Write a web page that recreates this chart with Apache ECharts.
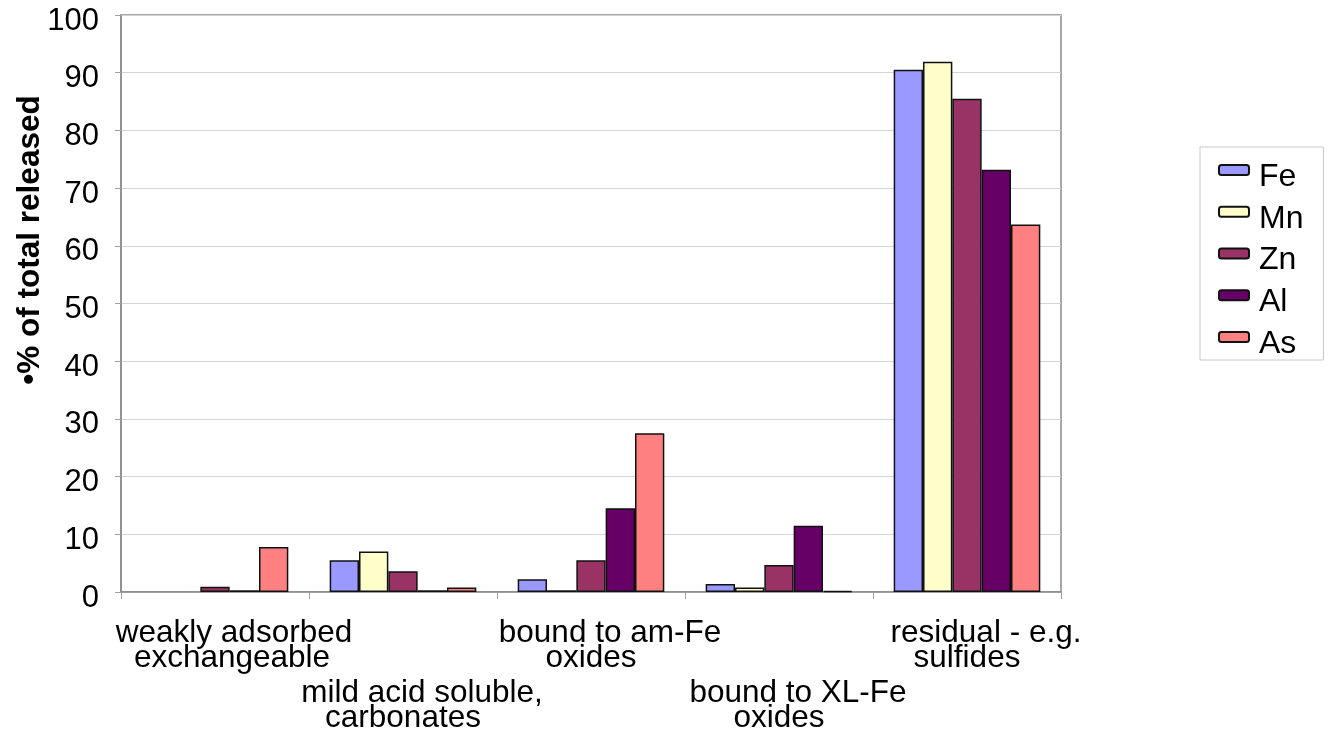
<!DOCTYPE html>
<html>
<head>
<meta charset="utf-8">
<title>% of total released by fraction</title>
<script src="https://cdn.jsdelivr.net/npm/echarts@6/dist/echarts.min.js"></script>
<style>
  html, body { margin: 0; padding: 0; background: #fff; }
  #chart { width: 1328px; height: 730px; }
</style>
</head>
<body>
<div id="chart"></div>
<script>
// Sequential extraction fractions (x categories)
const categories = [
  'weakly adsorbed\nexchangeable',
  'mild acid soluble,\ncarbonates',
  'bound to am-Fe\noxides',
  'bound to XL-Fe\noxides',
  'residual - e.g.\nsulfides'
];

// % of total released per element
const fe = [0, 5.5, 2.2, 1.4, 90.5];
const mn = [0, 7.0, 0.3, 0.8, 91.9];
const zn = [0.9, 3.6, 5.5, 4.7, 85.5];
const al = [0.3, 0.3, 14.5, 11.5, 73.2];
const as = [7.8, 0.8, 27.5, 0.2, 63.7];

const seriesNames = ['Fe', 'Mn', 'Zn', 'Al', 'As'];
const seriesValues = [fe, mn, zn, al, as];
const seriesColors = ['#9999FF', '#FFFFCC', '#993366', '#660066', '#FF8080'];

const yTicks = { min: 0, max: 100, step: 10 };
const yTitle = '•% of total released';

const FONT = '"Liberation Sans", Arial, Helvetica, sans-serif';

const chart = echarts.init(document.getElementById('chart'), null, { renderer: 'canvas' });

// zero values get no outline so they leave no stroke on the baseline
function barData(values) {
  return values.map(function (v) {
    return v === 0 ? { value: v, itemStyle: { borderWidth: 0 } } : v;
  });
}

chart.setOption({
  backgroundColor: '#ffffff',
  animation: false,
  textStyle: { fontFamily: FONT, color: '#000' },
  grid: {
    left: 121, right: 267, top: 15, bottom: 138,
    outerBoundsMode: 'none',
    containLabel: false,
    show: true, borderColor: '#8a8a8a', borderWidth: 1.5, backgroundColor: 'transparent'
  },
  legend: {
    orient: 'vertical',
    left: 1200, top: 147,
    itemWidth: 30, itemHeight: 10,
    itemGap: -4.25,
    padding: [0, 20, 0, 18],
    borderColor: '#c8c8c8', borderWidth: 1, backgroundColor: '#fff',
    formatter: '{t|{name}}',
    textStyle: {
      fontFamily: FONT, fontSize: 32, color: '#000',
      rich: { t: { fontFamily: FONT, fontSize: 32, color: '#000', lineHeight: 20, padding: [14, 0, 0, 5] } }
    },
    data: seriesNames
  },
  xAxis: {
    type: 'category',
    data: categories,
    axisLine: { lineStyle: { color: '#8a8a8a', width: 1.5 } },
    axisTick: { show: true, alignWithLabel: false, length: 7, lineStyle: { color: '#a0a0a0', width: 1 } },
    axisLabel: {
      interval: 0,
      margin: 29,
      color: '#000',
      fontFamily: FONT,
      fontSize: 31.5,
      formatter: function (value, index) {
        const lines = value.split('\n');
        const lead = index % 2 === 1 ? '{gap| }\n' : '';
        const second = index === 0 ? 'l2s' : 'l2';
        return lead + '{l1|' + lines[0] + '}\n{' + second + '|' + lines[1] + '}';
      },
      rich: {
        gap: { fontSize: 10, lineHeight: 60 },
        l1: { fontFamily: FONT, fontSize: 31.5, lineHeight: 25, color: '#000', padding: [0, 0, 0, 38] },
        l2: { fontFamily: FONT, fontSize: 31.5, lineHeight: 25, color: '#000' },
        l2s: { fontFamily: FONT, fontSize: 31.5, lineHeight: 25, color: '#000', padding: [0, 0, 0, 34] }
      }
    },
    splitLine: { show: false }
  },
  yAxis: {
    type: 'value',
    min: yTicks.min, max: yTicks.max, interval: yTicks.step,
    axisLine: { show: true, lineStyle: { color: '#8a8a8a', width: 1.5 } },
    axisTick: { show: true, length: 6, lineStyle: { color: '#a0a0a0', width: 1 } },
    axisLabel: {
      margin: 22, color: '#000', fontFamily: FONT, fontSize: 31,
      formatter: '{v|{value}}',
      rich: { v: { fontFamily: FONT, fontSize: 31, color: '#000', lineHeight: 31, padding: [12, 0, 0, 0] } }
    },
    splitLine: { show: true, lineStyle: { color: '#d4d4d4', width: 1 } }
  },
  graphic: [{
    type: 'text',
    x: 30, y: 240,
    rotation: Math.PI / 2,
    style: {
      text: yTitle,
      fontFamily: FONT, fontSize: 31.5, fontWeight: 'bold', fill: '#000',
      align: 'center', verticalAlign: 'middle'
    }
  }],
  series: seriesNames.map(function (name, i) {
    return {
      name: name,
      type: 'bar',
      data: barData(seriesValues[i]),
      barGap: '0%',
      barCategoryGap: '22%',
      itemStyle: { color: seriesColors[i], borderColor: '#111', borderWidth: 1.5 },
      emphasis: { disabled: true }
    };
  })
});
</script>
</body>
</html>
